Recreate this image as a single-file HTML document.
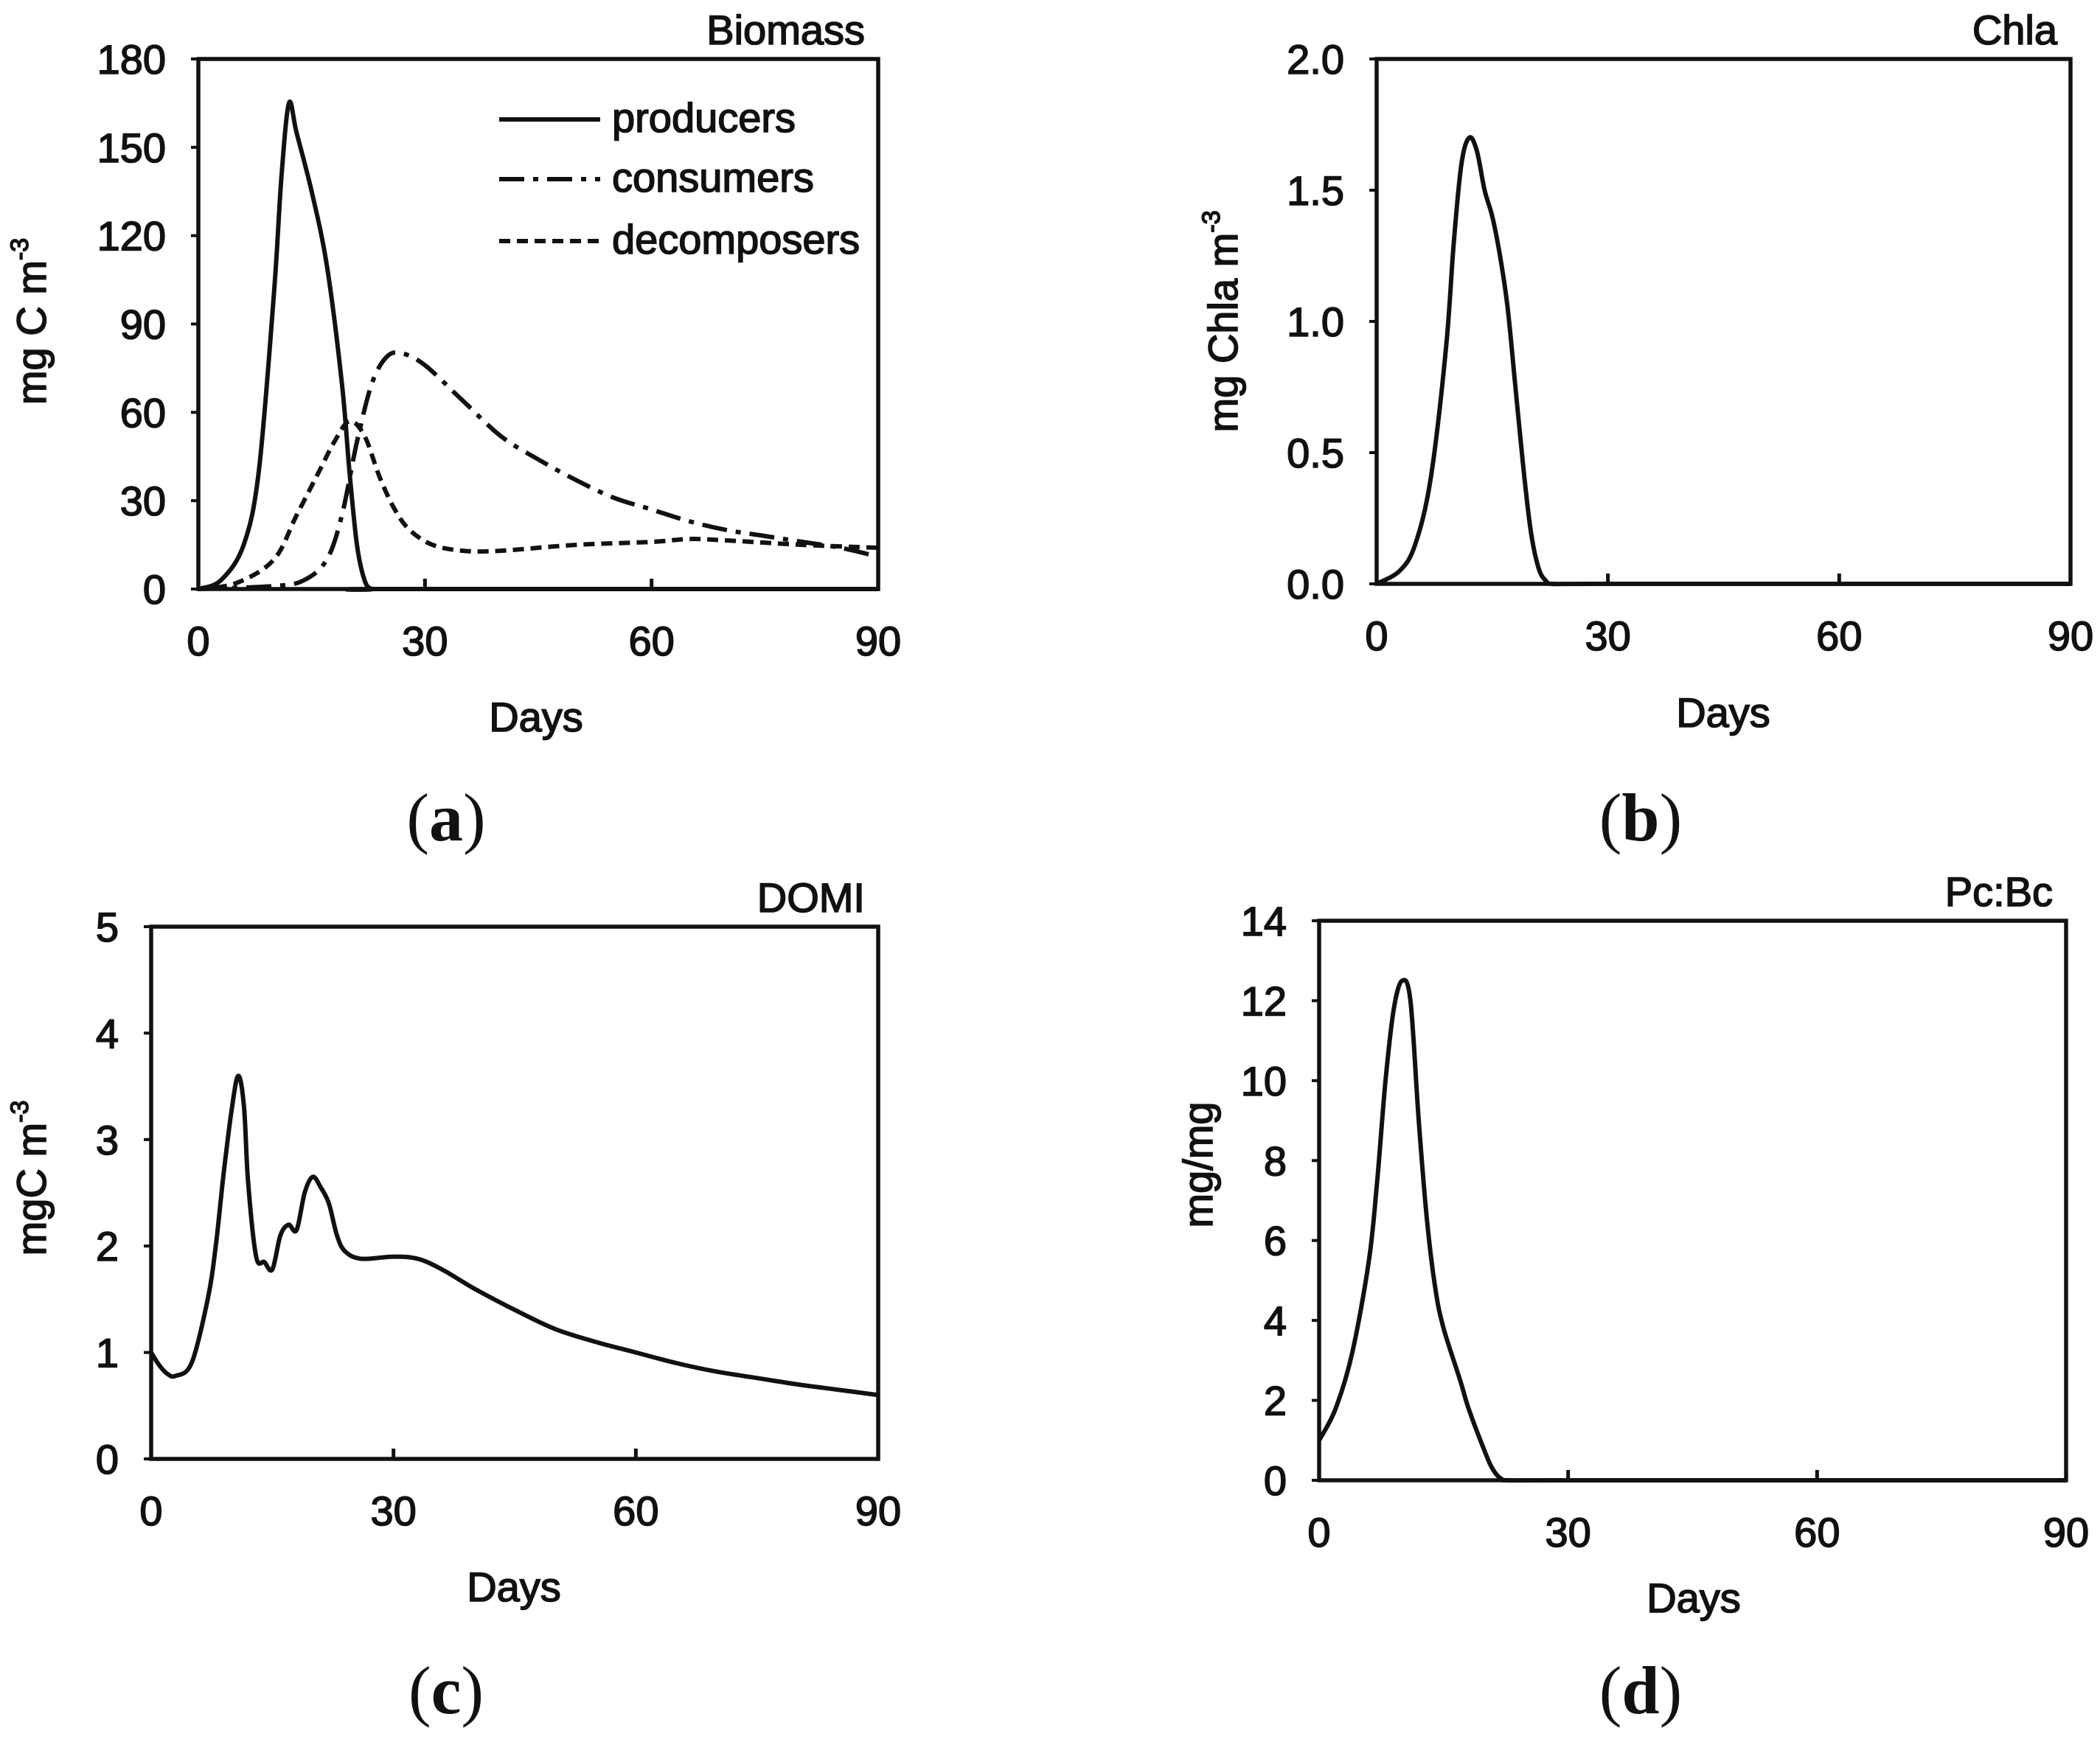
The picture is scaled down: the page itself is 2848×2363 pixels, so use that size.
<!DOCTYPE html>
<html><head><meta charset="utf-8"><style>
html,body{margin:0;padding:0;background:#fff}
svg{display:block}
text{font-family:"Liberation Sans",Arial,sans-serif;fill:#111;stroke:#111;stroke-width:1.6}
.tk{font-size:56px}
.ser{font-family:"Liberation Serif",serif;font-size:92px;stroke-width:0}
</style></head><body>
<svg id="fig" width="2848" height="2363" viewBox="0 0 2848 2363"></svg>
<script>
// Panel a: Biomass
const daysProd = [0,3,6,8,10,11,12,13,15,17,19,20,21,22,23,25,90];
const producers = [0,3,15,40,100,140,165,155,135,110,70,40,15,3,0,0,0];
const daysCons = [0,10,14,17,19,21,23,25,27,30,35,40,45,50,55,60,65,70,75,80,85,90];
const consumers = [0,1,3,10,25,50,70,79,80,76,64,52,44,37,31,27,23,20,18,16,14,11];
const daysDec = [0,5,10,13,16,18,20,22,24,26,28,31,35,40,50,60,65,70,80,90];
const decomposers = [0,2,10,25,40,50,57,52,38,27,20,15,13,13,15,16,17,16.5,15,14];
// Panel b: Chla
const daysChla = [0,3,5,7,9,10,11,12,13,14,15,16,17,18,19,20,21,22,23,30,90];
const chla = [0,0.05,0.15,0.4,0.9,1.3,1.6,1.7,1.65,1.5,1.4,1.25,1.05,0.75,0.45,0.2,0.06,0.01,0,0,0];
// Panel c: DOMI
const daysDomi = [0,1,2,3,5,7,8,9,10,10.8,11.5,12,13,14,15,16,17,18,19,20,21,22,23,24,26,30,33,36,40,45,50,55,60,65,70,75,80,85,90];
const domi = [1.0,0.88,0.8,0.78,0.9,1.5,2.0,2.7,3.3,3.6,3.3,2.6,1.9,1.85,1.78,2.1,2.2,2.15,2.5,2.65,2.55,2.4,2.1,1.95,1.88,1.9,1.88,1.78,1.6,1.4,1.22,1.1,1.0,0.9,0.82,0.76,0.7,0.65,0.6];
// Panel d: Pc:Bc
const daysPc = [0,2,4,6,7,8,9,10,11,12,13,14,15,17,18,20,21,22,23,30,90];
const pcbc = [1.0,1.8,3.2,5.5,7.5,10.0,11.8,12.5,12.0,9.0,6.5,4.8,3.8,2.5,1.8,0.7,0.25,0.03,0,0,0];
const xTicks = [0,30,60,90];
const yTicksA = [0,30,60,90,120,150,180];
const yTicksB = ["0.0","0.5","1.0","1.5","2.0"];
const yTicksC = [0,1,2,3,4,5];
const yTicksD = [0,2,4,6,8,10,12,14];

const NS="http://www.w3.org/2000/svg";
const svg=document.getElementById('fig');
function mk(tag,attrs,parent,txt){const e=document.createElementNS(NS,tag);for(const k in attrs)e.setAttribute(k,attrs[k]);if(txt!==undefined)e.textContent=txt;(parent||svg).appendChild(e);return e;}
function smooth(pts){
  let d='M'+pts[0][0].toFixed(1)+','+pts[0][1].toFixed(1);
  for(let i=0;i<pts.length-1;i++){
    const p0=pts[Math.max(0,i-1)],p1=pts[i],p2=pts[i+1],p3=pts[Math.min(pts.length-1,i+2)];
    const c1=[p1[0]+(p2[0]-p0[0])/6,p1[1]+(p2[1]-p0[1])/6];
    const c2=[p2[0]-(p3[0]-p1[0])/6,p2[1]-(p3[1]-p1[1])/6];
    d+=' C'+c1[0].toFixed(1)+','+c1[1].toFixed(1)+' '+c2[0].toFixed(1)+','+c2[1].toFixed(1)+' '+p2[0].toFixed(1)+','+p2[1].toFixed(1);
  }
  return d;
}
function panel(o){
  const g=mk('g',{});
  
  
  const xs=v=>o.L+(v-0)/90*(o.R-o.L);
  const ys=v=>o.B-(v-o.ymin)/(o.ymax-o.ymin)*(o.B-o.T);
  o.series.forEach(s=>{
    const pts=s.x.map((d,i)=>[xs(d),ys(s.y[i])]);
    const p=mk('path',{d:smooth(pts),fill:'none',stroke:'#111','stroke-width':6,'stroke-linejoin':'round','stroke-dasharray':s.dash||'none'},g);
    
    
  });
  const fr=mk('rect',{x:o.L,y:o.T,width:o.R-o.L,height:o.B-o.T,fill:'none',stroke:'#111','stroke-width':5.5},g);
  
  
  xTicks.forEach(t=>{
    const x=xs(t);
    if(t>0&&t<90) mk('line',{x1:x,x2:x,y1:o.B,y2:o.B-14,stroke:'#111','stroke-width':5},g);
    const tx=mk('text',{x:x,y:o.B+90,'text-anchor':'middle',class:'tk'},g,String(t));
    
    
  });
  o.yt.forEach(t=>{
    const y=ys(parseFloat(t));
    mk('line',{x1:o.L,x2:o.L-10,y1:y,y2:y,stroke:'#111','stroke-width':4},g);
    const ty=mk('text',{x:o.L-44,y:y+20,'text-anchor':'end',class:'tk'},g,String(t));
    
    
  });
  const ti=mk('text',{x:o.R-18,y:o.T-20,'text-anchor':'end',class:'tk','font-size':55},g,o.title);
  
  
  const dx=mk('text',{x:o.dx[0],y:o.dx[1]+20,'text-anchor':'middle',class:'tk','font-size':60},g,'Days');
  
  
  const yl=mk('text',{x:0,y:0,'text-anchor':'middle',class:'tk','font-size':o.ylfs||58,transform:'translate('+o.yl[0]+','+o.yl[1]+') rotate(-90)'},g);
  
  
  yl.textContent=o.ylab;
  if(o.sup){const s=mk('tspan',{'font-size':34,dy:-24},yl,o.sup);}
  const lb=mk('text',{x:o.lab[0],y:o.lab[1]+32,'text-anchor':'middle',class:'ser'},g);
  
  
  mk('tspan',{},lb,'(');mk('tspan',{'font-weight':'bold'},lb,o.letter);mk('tspan',{},lb,')');
  return g;
}
const DC='34 12 7 12', DD='15 9';
const ga=panel({name:'panel-a-biomass',L:269,R:1191,T:80,B:799,ymin:0,ymax:180,yt:yTicksA,title:'Biomass',
  series:[{name:'producers-line',x:daysProd,y:producers},{name:'consumers-line',x:daysCons,y:consumers,dash:DC},{name:'decomposers-line',x:daysDec,y:decomposers,dash:DD}],
  dx:[727,972],yl:[62,436],ylab:'mg C m',sup:'-3',lab:[605,1108],letter:'a'});
// legend
[['producers','none',162],['consumers',DC,243],['decomposers',DD,327]].forEach(l=>{
  const ln=mk('line',{x1:677,x2:814,y1:l[2],y2:l[2],stroke:'#111','stroke-width':6,'stroke-dasharray':l[1]},ga);
  
  
  const t=mk('text',{x:830,y:l[2]+17,class:'tk','font-size':50},ga,l[0]);
  
  
});
panel({name:'panel-b-chla',L:1867,R:2808,T:80,B:792,ymin:0,ymax:2,yt:yTicksB,title:'Chla',
  series:[{name:'chla-line',x:daysChla,y:chla}],dx:[2337,966],yl:[1678,436],ylab:'mg Chla m',sup:'-3',lab:[2225,1108],letter:'b'});
panel({name:'panel-c-domi',L:205,R:1191,T:1257,B:1979,ymin:0,ymax:5,yt:yTicksC,title:'DOMI',
  series:[{name:'domi-line',x:daysDomi,y:domi}],dx:[697,2152],yl:[62,1598],ylab:'mgC m',sup:'-3',lab:[605,2292],letter:'c'});
panel({name:'panel-d-pcbc',L:1789,R:2802,T:1249,B:2008,ymin:0,ymax:14,yt:yTicksD,title:'Pc:Bc',
  series:[{name:'pcbc-line',x:daysPc,y:pcbc}],dx:[2297,2167],yl:[1644,1580],ylab:'mg/mg',ylfs:26,lab:[2225,2292],letter:'d'});
</script>
</body></html>
